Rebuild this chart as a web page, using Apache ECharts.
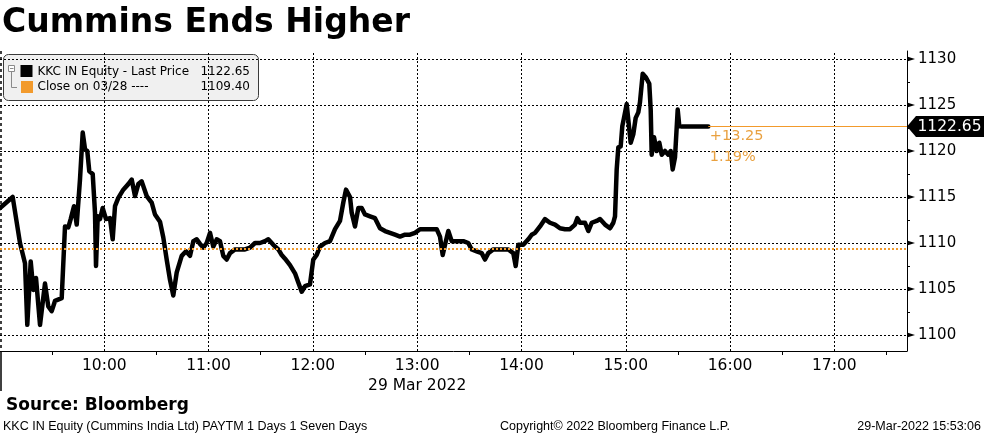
<!DOCTYPE html>
<html>
<head>
<meta charset="utf-8">
<title>Cummins Ends Higher</title>
<script src="https://cdn.jsdelivr.net/npm/echarts@6/dist/echarts.min.js"></script>
<style>
  html, body { margin: 0; padding: 0; background: #fff; }
  #chart { width: 984px; height: 435px; }
</style>
</head>
<body>
<div id="chart"></div>
<script>
// KKC IN intraday prints, 29 Mar 2022
var times = ['09:00:00','09:07:18','09:11:30','09:14:23','09:15:42','09:17:40','09:19:10','09:20:43','09:23:01','09:25:53',
  '09:27:47','09:29:45','09:31:38','09:35:30','09:37:24','09:39:18','09:40:40','09:42:34','09:44:08','09:46:01',
  '09:47:35','09:48:54','09:50:13','09:51:22','09:53:20','09:54:39','09:55:14','09:56:13','09:57:32','09:59:05',
  '10:00:59','10:03:17','10:04:50','10:06:10','10:08:04','10:10:56','10:13:49','10:15:46','10:17:40','10:19:34',
  '10:21:31','10:24:24','10:27:16','10:29:10','10:32:03','10:33:57','10:35:54','10:37:48','10:39:42','10:41:40',
  '10:44:32','10:47:01','10:49:19','10:51:13','10:53:10','10:55:04','10:56:58','10:58:55','11:00:49','11:02:43',
  '11:04:40','11:06:34','11:08:28','11:10:25','11:12:19','11:15:12','11:18:04','11:20:57','11:23:50','11:26:42',
  '11:29:35','11:32:27','11:34:21','11:37:14','11:40:07','11:42:04','11:43:58','11:46:50','11:49:43','11:51:37',
  '11:53:34','11:55:28','11:58:20','12:00:14','12:02:12','12:04:06','12:06:58','12:09:51','12:12:44','12:15:36',
  '12:17:30','12:19:03','12:21:22','12:22:20','12:24:14','12:26:08','12:28:05','12:29:59','12:32:52','12:35:44',
  '12:38:37','12:41:29','12:44:22','12:47:14','12:50:07','12:53:00','12:55:52','12:58:45','13:01:38','13:04:30',
  '13:07:23','13:11:14','13:13:08','13:14:41','13:16:01','13:17:55','13:19:52','13:22:44','13:26:32','13:29:25',
  '13:31:22','13:34:14','13:37:07','13:39:01','13:40:55','13:43:48','13:46:40','13:49:33','13:52:26','13:55:18',
  '13:56:41','13:58:11','14:01:03','14:03:56','14:05:53','14:07:47','14:10:40','14:13:32','14:16:25','14:19:18',
  '14:22:10','14:25:03','14:27:55','14:30:48','14:32:07','14:33:40','14:36:33','14:38:27','14:40:25','14:43:17',
  '14:45:11','14:48:04','14:50:56','14:52:50','14:53:49','14:54:47','14:55:43','14:57:05','14:58:01','14:58:59',
  '15:00:32','15:01:28','15:02:50','15:04:20','15:05:43','15:07:13','15:08:11','15:09:45','15:11:38','15:13:32',
  '15:14:21','15:14:55','15:16:15','15:17:48','15:19:18','15:20:41','15:22:34','15:24:28','15:25:51','15:27:00',
  '15:28:20','15:29:53','15:30:48','15:32:11','15:47:29'];
var prices = [1113.8, 1115.0, 1110.0, 1107.8, 1101.1, 1108.0, 1104.9, 1106.2, 1101.1, 1105.6,
  1103.1, 1102.6, 1103.7, 1104.0, 1111.8, 1111.7, 1112.6, 1114.0, 1112.0, 1116.9,
  1122.0, 1120.2, 1120.0, 1117.8, 1117.5, 1113.3, 1107.5, 1112.9, 1112.6, 1113.8,
  1112.6, 1112.7, 1110.4, 1114.0, 1114.9, 1115.8, 1116.4, 1116.9, 1115.1, 1116.4,
  1116.7, 1115.1, 1114.4, 1113.1, 1112.3, 1110.6, 1108.2, 1106.0, 1104.3, 1106.8,
  1108.6, 1109.1, 1108.6, 1110.2, 1110.4, 1109.9, 1109.5, 1110.0, 1111.1, 1109.6,
  1110.4, 1110.2, 1108.6, 1108.2, 1108.9, 1109.3, 1109.3, 1109.3, 1109.5, 1110.0,
  1110.0, 1110.2, 1110.4, 1109.8, 1109.3, 1108.7, 1108.3, 1107.6, 1106.7, 1105.7,
  1104.7, 1105.3, 1105.5, 1108.2, 1108.7, 1109.6, 1110.0, 1110.2, 1111.5, 1112.4,
  1114.4, 1115.8, 1115.0, 1113.3, 1111.8, 1113.8, 1113.8, 1113.1, 1112.9, 1112.7,
  1111.6, 1111.3, 1111.1, 1110.9, 1110.7, 1110.9, 1110.9, 1111.1, 1111.5, 1111.5,
  1111.5, 1111.5, 1110.7, 1108.7, 1109.8, 1111.3, 1110.2, 1110.2, 1110.2, 1110.0,
  1109.3, 1109.1, 1108.9, 1108.2, 1108.9, 1109.3, 1109.3, 1109.3, 1109.3, 1108.9,
  1107.5, 1109.8, 1109.8, 1110.4, 1110.9, 1111.1, 1111.8, 1112.6, 1112.2, 1112.0,
  1111.6, 1111.5, 1111.5, 1112.0, 1112.7, 1112.2, 1112.2, 1111.3, 1112.2, 1112.4,
  1112.6, 1112.0, 1111.6, 1112.2, 1112.9, 1118.0, 1120.4, 1120.5, 1122.7, 1123.6,
  1125.1, 1123.4, 1120.9, 1121.8, 1123.6, 1124.2, 1125.3, 1128.4, 1128.0, 1127.3,
  1124.5, 1119.6, 1121.5, 1120.0, 1120.9, 1119.6, 1120.0, 1119.6, 1120.0, 1118.0,
  1119.3, 1124.5, 1122.7, 1122.65, 1122.65];
var prevClose = 1109.40;

// axis ticks / labels
var hourLabels = ['10:00', '11:00', '12:00', '13:00', '14:00', '15:00', '16:00', '17:00'];
var halfHourTicks = ['09:30', '10:30', '11:30', '12:30', '13:30', '14:30', '15:30', '16:30', '17:30'];
var priceTicks = [1100, 1105, 1110, 1115, 1120, 1125, 1130];
var minorPriceTicks = [1102.5, 1107.5, 1112.5, 1117.5, 1122.5, 1127.5];
var dateLabel = '29 Mar 2022';

var X_MIN = 540, X_MAX = 1061.8;      // 09:00 .. ~17:42
var Y_MIN = 1098.26, Y_MAX = 1130.87;

var ORANGE = '#f29a2c';
var ORANGE_TXT = '#e9a140';
var FONT = 'DejaVu Sans';

function toMin(s) {
  var p = s.split(':');
  return +p[0] * 60 + +p[1] + (p[2] ? +p[2] / 60 : 0);
}

var points = times.map(function (t, i) { return [toMin(t), prices[i]]; });
var hourVals = hourLabels.map(toMin);
var halfVals = halfHourTicks.map(toMin);
var lastT = points[points.length - 1][0];
var lastP = prices[prices.length - 1];
var chg = lastP - prevClose;
var chgPct = chg / prevClose * 100;

var myChart = echarts.init(document.getElementById('chart'));

var gridLines = priceTicks.map(function (v) { return { yAxis: v }; })
  .concat(hourVals.map(function (v) { return { xAxis: v }; }));
gridLines.push({ yAxis: prevClose, lineStyle: { color: ORANGE, width: 2, type: [2, 2] } });

var option = {
  animation: false,
  title: {
    text: 'Cummins Ends Higher',
    left: 2, top: 7, padding: 0,
    textStyle: { fontFamily: FONT, fontWeight: 'bold', fontSize: 33, color: '#000' }
  },
  grid: { left: 0, right: 77, top: 51, bottom: 84, containLabel: false, outerBoundsMode: 'none' },
  xAxis: {
    type: 'value', min: X_MIN, max: X_MAX,
    axisLine: { show: true, lineStyle: { color: '#000', width: 1 } },
    axisTick: { show: true, customValues: halfVals, length: 4, lineStyle: { color: '#000' } },
    axisLabel: {
      customValues: hourVals,
      color: '#000', fontFamily: FONT, fontSize: 15.5, margin: 5, lineHeight: 20,
      formatter: function (v) {
        var h = Math.round(v / 60);
        var s = (h < 10 ? '0' : '') + h + ':00';
        return h === 13 ? s + '\n' + dateLabel : s;
      }
    },
    splitLine: { show: false }
  },
  yAxis: {
    type: 'value', position: 'right', min: Y_MIN, max: Y_MAX,
    axisLine: { show: true, lineStyle: { color: '#000', width: 1 } },
    axisTick: { show: true, customValues: minorPriceTicks, length: 3, lineStyle: { color: '#000' } },
    axisLabel: {
      customValues: priceTicks, color: '#000', fontFamily: FONT, fontSize: 15, margin: 11,
      formatter: function (v) { return String(v); }
    },
    splitLine: { show: false }
  },
  series: [
    {
      // background grid + previous close reference
      type: 'line', data: [], silent: true, z: 1,
      markLine: {
        silent: true, symbol: ['none', 'none'], animation: false,
        label: { show: false },
        lineStyle: { color: '#000', width: 1, type: [2, 2] },
        data: gridLines
      },
      markPoint: {
        silent: true, animation: false,
        symbol: 'triangle', symbolSize: [5, 8], symbolRotate: -90, symbolOffset: [4, 0],
        itemStyle: { color: '#000' },
        label: { show: false },
        data: priceTicks.map(function (v) { return { coord: [X_MAX, v] }; })
      }
    },
    {
      name: 'KKC IN Equity - Last Price',
      type: 'line', data: points, z: 3,
      showSymbol: false, symbol: 'none',
      lineStyle: { color: '#000', width: 4.5, join: 'round', cap: 'round' },
      markLine: {
        silent: true, symbol: ['none', 'none'], animation: false,
        label: { show: false },
        lineStyle: { color: ORANGE, width: 1, type: 'solid' },
        data: [[{ coord: [lastT, lastP] }, { coord: [X_MAX, lastP] }]]
      },
      markPoint: {
        silent: true, animation: false,
        data: [
          {
            coord: [X_MAX, lastP],
            symbol: 'path://M0,10.5 L9,0 L77,0 L77,21 L9,21 Z',
            symbolSize: [77, 21], symbolOffset: [38.5, 0], symbolKeepAspect: false,
            itemStyle: { color: '#000' },
            label: {
              show: true, position: 'inside', offset: [4, 0],
              color: '#fff', fontFamily: FONT, fontSize: 15.5,
              formatter: lastP.toFixed(2)
            }
          },
          {
            coord: [lastT, lastP],
            symbol: 'circle', symbolSize: 1,
            itemStyle: { color: 'rgba(0,0,0,0)' },
            label: {
              show: true, position: [2, 0], align: 'left', verticalAlign: 'top',
              color: ORANGE_TXT, fontFamily: FONT, fontSize: 14.5, lineHeight: 21,
              formatter: (chg >= 0 ? '+' : '') + chg.toFixed(2) + '\n' + chgPct.toFixed(2) + '%'
            }
          }
        ]
      }
    }
  ],
  graphic: [
    // left frame edge
    { type: 'line', shape: { x1: 1, y1: 51, x2: 1, y2: 351 }, style: { stroke: '#000', lineWidth: 1.5, lineDash: [3, 3] }, z: 5 },
    { type: 'line', shape: { x1: 1, y1: 351, x2: 1, y2: 391 }, style: { stroke: '#000', lineWidth: 1.5 }, z: 5 },
    // legend box
    {
      type: 'group', x: 3, y: 54, z: 10,
      children: [
        { type: 'rect', shape: { x: 0.5, y: 0.5, width: 255, height: 46, r: 5 }, style: { fill: '#f0f0f0', stroke: '#3a3a3a', lineWidth: 1 } },
        { type: 'rect', shape: { x: 5.5, y: 11.5, width: 6, height: 6 }, style: { fill: '#fff', stroke: '#8a8a8a', lineWidth: 1 } },
        { type: 'line', shape: { x1: 7, y1: 14.5, x2: 10.5, y2: 14.5 }, style: { stroke: '#8a8a8a', lineWidth: 1 } },
        { type: 'polyline', shape: { points: [[8.5, 18], [8.5, 33.5], [14, 33.5]] }, style: { stroke: '#8a8a8a', lineWidth: 1, fill: null } },
        { type: 'rect', shape: { x: 17.5, y: 11, width: 12, height: 12 }, style: { fill: '#000' } },
        { type: 'rect', shape: { x: 18, y: 27, width: 12, height: 12 }, style: { fill: ORANGE } },
        { type: 'text', x: 34.5, y: 17.5, style: { text: 'KKC IN Equity - Last Price', fill: '#000', fontFamily: FONT, fontSize: 12, verticalAlign: 'middle' } },
        { type: 'text', x: 247, y: 17.5, style: { text: lastP.toFixed(2), fill: '#000', fontFamily: FONT, fontSize: 12, align: 'right', verticalAlign: 'middle' } },
        { type: 'text', x: 34.5, y: 33.3, style: { text: 'Close on 03/28 ----', fill: '#000', fontFamily: FONT, fontSize: 12, verticalAlign: 'middle' } },
        { type: 'text', x: 247, y: 33.3, style: { text: prevClose.toFixed(2), fill: '#000', fontFamily: FONT, fontSize: 12, align: 'right', verticalAlign: 'middle' } }
      ]
    },
    // footer
    { type: 'text', x: 6, y: 406, style: { text: 'Source: Bloomberg', fill: '#000', fontFamily: FONT, fontWeight: 'bold', fontSize: 17, verticalAlign: 'middle' } },
    { type: 'text', x: 3, y: 427, style: { text: 'KKC IN Equity (Cummins India Ltd) PAYTM 1 Days 1 Seven Days', fill: '#000', fontFamily: 'Liberation Sans', fontSize: 12.5, verticalAlign: 'middle' } },
    { type: 'text', x: 615, y: 427, style: { text: 'Copyright\u00a9 2022 Bloomberg Finance L.P.', fill: '#000', fontFamily: 'Liberation Sans', fontSize: 12.5, align: 'center', verticalAlign: 'middle' } },
    { type: 'text', x: 981, y: 427, style: { text: '29-Mar-2022 15:53:06', fill: '#000', fontFamily: 'Liberation Sans', fontSize: 12.5, align: 'right', verticalAlign: 'middle' } }
  ]
};

myChart.setOption(option);
window.addEventListener('resize', myChart.resize);
</script>
</body>
</html>
